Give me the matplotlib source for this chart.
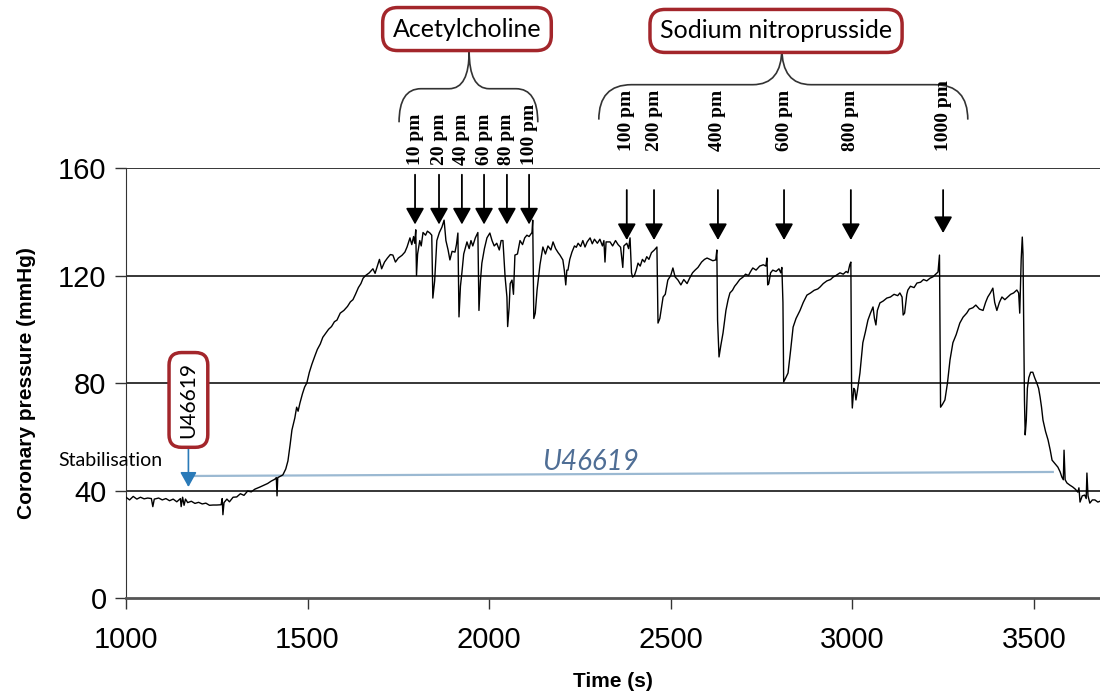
import numpy as np
import matplotlib
matplotlib.use("Agg")
import matplotlib.pyplot as plt
from matplotlib.path import Path
from matplotlib.patches import PathPatch

# Coronary pressure trace (time in s, pressure in mmHg)
time_s = [1000, 1010, 1020, 1030, 1040, 1050, 1060, 1070, 1074, 1078, 1090, 1100, 1110, 1120,
          1130, 1140, 1150, 1152, 1156, 1160, 1164, 1170, 1180, 1190, 1200, 1210, 1220, 1230,
          1240, 1250, 1262, 1265, 1267, 1270, 1278, 1285, 1295, 1305, 1315, 1325, 1335, 1345,
          1355, 1369, 1380, 1390, 1400, 1410, 1414, 1416, 1418, 1425, 1432, 1440, 1446, 1452,
          1457, 1465, 1470, 1474, 1479, 1486, 1492, 1498, 1505, 1512, 1520, 1527, 1535, 1542,
          1550, 1558, 1566, 1574, 1581, 1590, 1600, 1610, 1618, 1625, 1632, 1640, 1647, 1653,
          1660, 1670, 1680, 1686, 1691, 1698, 1704, 1712, 1720, 1728, 1735, 1742, 1750, 1760,
          1768, 1774, 1782, 1787, 1792, 1795, 1798, 1800, 1803, 1809, 1813, 1818, 1825, 1830,
          1837, 1842, 1845, 1850, 1856, 1863, 1870, 1876, 1881, 1887, 1892, 1898, 1906, 1910,
          1914, 1917, 1921, 1925, 1930, 1939, 1945, 1950, 1955, 1962, 1969, 1972, 1976, 1980,
          1987, 1994, 2002, 2008, 2014, 2021, 2028, 2033, 2038, 2044, 2049, 2051, 2055, 2058,
          2063, 2067, 2071, 2078, 2085, 2092, 2098, 2104, 2110, 2118, 2120, 2123, 2127, 2132,
          2140, 2148, 2155, 2162, 2170, 2176, 2183, 2190, 2195, 2203, 2207, 2211, 2214, 2217,
          2222, 2228, 2235, 2240, 2245, 2252, 2258, 2264, 2270, 2278, 2284, 2290, 2298, 2305,
          2312, 2316, 2319, 2322, 2333, 2340, 2348, 2355, 2362, 2368, 2371, 2379, 2384, 2388,
          2392, 2395, 2400, 2405, 2410, 2416, 2422, 2428, 2434, 2440, 2447, 2455, 2462, 2465,
          2470, 2479, 2485, 2492, 2500, 2506, 2512, 2520, 2528, 2536, 2545, 2552, 2560, 2567,
          2575, 2585, 2593, 2600, 2608, 2616, 2624, 2627, 2629, 2633, 2638, 2644, 2652, 2658,
          2663, 2670, 2676, 2682, 2690, 2699, 2706, 2714, 2720, 2726, 2735, 2745, 2755, 2762,
          2765, 2767, 2770, 2775, 2781, 2790, 2798, 2803, 2806, 2809, 2811, 2817, 2823, 2830,
          2837, 2845, 2856, 2865, 2875, 2885, 2895, 2905, 2911, 2920, 2930, 2940, 2947, 2955,
          2966, 2975, 2983, 2988, 2993, 2996, 2998, 3000, 3004, 3007, 3010, 3014, 3021, 3029,
          3036, 3043, 3050, 3057, 3061, 3065, 3069, 3076, 3085, 3095, 3105, 3115, 3125, 3131,
          3137, 3140, 3144, 3150, 3153, 3160, 3170, 3178, 3188, 3196, 3205, 3214, 3222, 3230,
          3236, 3240, 3243, 3248, 3255, 3262, 3269, 3277, 3286, 3296, 3305, 3315, 3322, 3332,
          3340, 3350, 3360, 3367, 3373, 3380, 3387, 3392, 3398, 3405, 3412, 3420, 3428, 3436,
          3444, 3453, 3458, 3461, 3465, 3468, 3470, 3472, 3474, 3476, 3479, 3482, 3486, 3491,
          3497, 3502, 3508, 3513, 3517, 3521, 3525, 3532, 3539, 3545, 3550, 3558, 3566, 3572,
          3577, 3581, 3583, 3586, 3591, 3599, 3607, 3614, 3621, 3624, 3627, 3633, 3640, 3644,
          3646, 3649, 3654, 3661, 3668, 3676, 3682]
pressure = [37.5, 36.5, 37.8, 36.8, 37.5, 36.9, 37.2, 37.0, 34.0, 36.8, 37.2, 36.5, 37.0, 36.2,
            36.8, 35.8, 37.0, 34.0, 37.5, 34.5, 36.8, 35.5, 36.0, 35.2, 35.6, 35.0, 35.3, 34.5,
            34.6, 34.6, 34.7, 37.0, 31.0, 35.5, 36.8, 35.8, 37.5, 37.6, 38.8, 38.2, 39.8, 39.5,
            40.5, 41.3, 42.0, 42.6, 43.5, 44.2, 44.8, 38.0, 44.8, 45.3, 45.8, 48.0, 51.0, 57.0,
            62.5, 67.0, 71.0, 69.5, 72.5, 76.0, 78.5, 80.0, 84.0, 87.0, 90.0, 92.5, 94.5, 97.0,
            98.5, 100.0, 101.0, 102.8, 103.4, 106.0, 107.0, 108.5, 110.2, 111.0, 113.0, 115.5, 117.0, 119.0,
            120.0, 121.0, 122.5, 120.8, 123.0, 126.0, 122.5, 125.0, 126.5, 127.8, 127.6, 125.0, 126.5, 127.5,
            128.7, 130.6, 134.0, 131.5, 134.5, 132.0, 137.0, 120.0, 128.0, 133.0, 131.0, 136.0, 135.0, 136.5,
            135.8, 135.0, 111.6, 118.0, 133.0, 136.0, 138.0, 140.6, 133.0, 129.5, 125.8, 129.0, 128.7, 131.5,
            135.8, 104.6, 116.0, 121.0, 128.0, 132.5, 130.0, 133.0, 131.0, 134.0, 136.0, 107.0, 118.0, 124.6,
            130.0, 134.0, 135.8, 133.0, 131.0, 132.0, 129.5, 133.0, 133.0, 119.4, 112.0, 101.0, 108.0, 117.0,
            118.3, 113.0, 127.6, 128.0, 133.0, 131.5, 134.0, 135.0, 134.5, 136.0, 140.6, 104.0, 106.0, 114.6,
            124.0, 130.6, 128.0, 131.0, 129.5, 132.5, 130.0, 128.5, 127.6, 125.8, 122.0, 116.5, 122.0, 122.0,
            126.0, 128.7, 131.0, 130.5, 132.0, 130.8, 133.0, 130.6, 132.5, 134.0, 131.8, 133.5, 132.0, 133.5,
            131.0, 133.0, 125.0, 132.5, 132.5, 131.0, 133.0, 131.5, 130.5, 123.0, 131.0, 132.0, 130.0, 134.0,
            121.0, 119.4, 120.0, 122.0, 124.6, 123.5, 126.0, 125.0, 127.0, 126.0, 128.5, 129.5, 130.6, 102.3,
            104.0, 112.0, 113.0, 118.3, 120.0, 122.8, 119.5, 118.3, 116.5, 118.5, 117.0, 119.0, 121.0, 122.0,
            123.0, 125.0, 126.0, 126.5, 126.0, 125.5, 125.8, 129.5, 103.4, 89.7, 94.0, 98.6, 107.0, 111.0,
            113.5, 114.5, 116.0, 117.0, 118.5, 119.4, 120.5, 120.0, 121.5, 122.8, 122.0, 123.5, 124.0, 123.5,
            126.5, 116.5, 117.0, 121.0, 122.0, 121.5, 122.5, 121.0, 123.0, 110.0, 80.4, 82.0, 83.7, 92.0,
            100.8, 104.0, 107.0, 110.0, 112.7, 113.5, 114.5, 115.0, 115.7, 117.0, 118.0, 118.5, 119.4, 120.0,
            121.0, 120.5, 121.5, 121.0, 124.0, 125.0, 78.5, 70.7, 78.0, 77.4, 73.7, 77.0, 83.7, 95.0,
            99.0, 103.4, 106.0, 108.3, 104.0, 101.6, 107.0, 109.8, 110.5, 111.6, 112.0, 113.0, 112.5, 113.5,
            112.0, 105.3, 106.0, 113.0, 114.6, 116.0, 115.5, 117.2, 117.5, 118.5, 118.0, 119.0, 119.5, 120.5,
            121.3, 127.6, 71.0, 72.0, 73.7, 80.0, 88.6, 95.0, 98.0, 102.3, 104.5, 106.0, 107.5, 108.0,
            109.0, 107.5, 107.0, 110.0, 112.0, 113.5, 115.3, 110.0, 107.0, 110.0, 112.0, 111.0, 112.0, 113.0,
            113.5, 114.6, 113.5, 106.0, 126.0, 134.3, 128.0, 100.8, 73.7, 60.7, 66.0, 78.0, 82.0, 84.0,
            84.0, 82.0, 80.0, 78.0, 74.8, 71.0, 66.2, 62.0, 58.8, 55.0, 51.3, 50.0, 48.7, 47.0,
            45.0, 44.0, 55.0, 44.0, 42.8, 42.0, 41.3, 40.5, 39.4, 41.0, 35.7, 38.0, 38.3, 37.0,
            46.5, 38.0, 35.3, 36.5, 36.5, 35.7, 36.0]

# Drug injections
ach_times = [1796, 1862, 1925, 1986, 2049, 2110]
ach_doses = ['10 pm', '20 pm', '40 pm', '60 pm', '80 pm', '100 pm']
snp_times = [2379, 2454, 2630, 2812, 2996, 3250]
snp_doses = ['100 pm', '200 pm', '400 pm', '600 pm', '800 pm', '1000 pm']
u46619_start = 1172
u46619_end = 3552

BOX_RED = '#a3262b'

fig = plt.figure(figsize=(11, 7), dpi=100)
ax = fig.add_axes([0.1145, 0.1457, 0.8855, 0.6143])

ax.plot(time_s, pressure, color='black', lw=1.0, zorder=3)

ax.set_xlim(1000, 3682)
ax.set_ylim(0, 160)
ax.set_xticks([1000, 1500, 2000, 2500, 3000, 3500])
ax.set_yticks([0, 40, 80, 120, 160])
for y in [40, 80, 120, 160]:
    ax.axhline(y, color='black', lw=1.1, zorder=1)

for s in ['top', 'right']:
    ax.spines[s].set_visible(False)
ax.spines['left'].set_color('#333333')
ax.spines['bottom'].set_color('#555555')
ax.spines['bottom'].set_linewidth(2)
ax.tick_params(axis='both', direction='out', length=8, width=1, colors='#333333',
               labelcolor='black', labelsize=21, pad=6)
ax.tick_params(axis='x', pad=12)
for lab in ax.get_xticklabels() + ax.get_yticklabels():
    lab.set_family('Liberation Sans')

ax.set_xlabel('Time (s)', fontsize=15, fontweight='bold', family='Liberation Sans', labelpad=13)
ax.set_ylabel('Coronary pressure (mmHg)', fontsize=15, fontweight='bold',
              family='Liberation Sans', labelpad=16)

# dose arrows and labels
for t, d in zip(ach_times, ach_doses):
    ax.annotate('', xy=(t, 139), xytext=(t, 157.5), annotation_clip=False,
                arrowprops=dict(arrowstyle='-|>,head_length=0.5,head_width=0.28',
                                mutation_scale=20, color='black', lw=1.3,
                                shrinkA=0, shrinkB=0))
    ax.text(t, 161.3, d, rotation=90, ha='center', va='bottom', fontsize=14,
            family='Liberation Serif', fontweight='bold', clip_on=False)
for t, d in zip(snp_times, snp_doses):
    tip = 135.8 if d == '1000 pm' else 133.2
    ax.annotate('', xy=(t, tip), xytext=(t, 151.8), annotation_clip=False,
                arrowprops=dict(arrowstyle='-|>,head_length=0.5,head_width=0.28',
                                mutation_scale=20, color='black', lw=1.3,
                                shrinkA=0, shrinkB=0))
    ax.text(t, 166.5, d, rotation=90, ha='center', va='bottom', fontsize=14,
            family='Liberation Serif', fontweight='bold', clip_on=False)


def brace(x0, x1, xm, y_end, y_base, y_peak, r, rm):
    verts = [(x0, y_end), (x0, y_base), (x0 + r, y_base),
             (xm - rm, y_base), (xm, y_base), (xm, y_peak),
             (xm, y_base), (xm + rm, y_base),
             (x1 - r, y_base), (x1, y_base), (x1, y_end)]
    codes = [Path.MOVETO, Path.CURVE3, Path.CURVE3,
             Path.LINETO, Path.CURVE3, Path.CURVE3,
             Path.CURVE3, Path.CURVE3,
             Path.LINETO, Path.CURVE3, Path.CURVE3]
    ax.add_patch(PathPatch(Path(verts, codes), fc='none', ec='#333333', lw=1.2,
                           clip_on=False))


brace(1752, 2134, 1945, 177, 189.5, 203.5, 60, 55)
brace(2302, 3318, 2806, 178, 191, 204.5, 90, 80)

ax.text(1939, 211.7, 'Acetylcholine', ha='center', va='center', fontsize=18,
        family='Lato', clip_on=False,
        bbox=dict(boxstyle='round,pad=0.4,rounding_size=0.6', fc='white', ec=BOX_RED, lw=2.5))
ax.text(2790, 211, 'Sodium nitroprusside', ha='center', va='center', fontsize=18,
        family='Lato', clip_on=False,
        bbox=dict(boxstyle='round,pad=0.4,rounding_size=0.6', fc='white', ec=BOX_RED, lw=2.5))

# U46619 infusion
ax.text(u46619_start, 73.7, 'U46619', rotation=90, ha='center', va='center', fontsize=15,
        family='Lato', zorder=5,
        bbox=dict(boxstyle='round,pad=0.45,rounding_size=0.6', fc='white', ec=BOX_RED, lw=2.5))
ax.annotate('', xy=(u46619_start, 41.3), xytext=(u46619_start, 57.5),
            arrowprops=dict(arrowstyle='-|>,head_length=0.45,head_width=0.25',
                            mutation_scale=20, color='#2a7ab8', lw=1.2,
                            shrinkA=0, shrinkB=0))
ax.plot([u46619_start, u46619_end], [45.4, 46.9], color='#9bb9d2', lw=1.6, zorder=2)
ax.text(2278, 50.6, 'U46619', ha='center', va='center', fontsize=20, style='italic',
        family='Lato', color='#4f6e95')
ax.text(956, 51.3, 'Stabilisation', ha='center', va='center', fontsize=14,
        family='Lato', clip_on=False)

fig.savefig('out.png', dpi=100)
